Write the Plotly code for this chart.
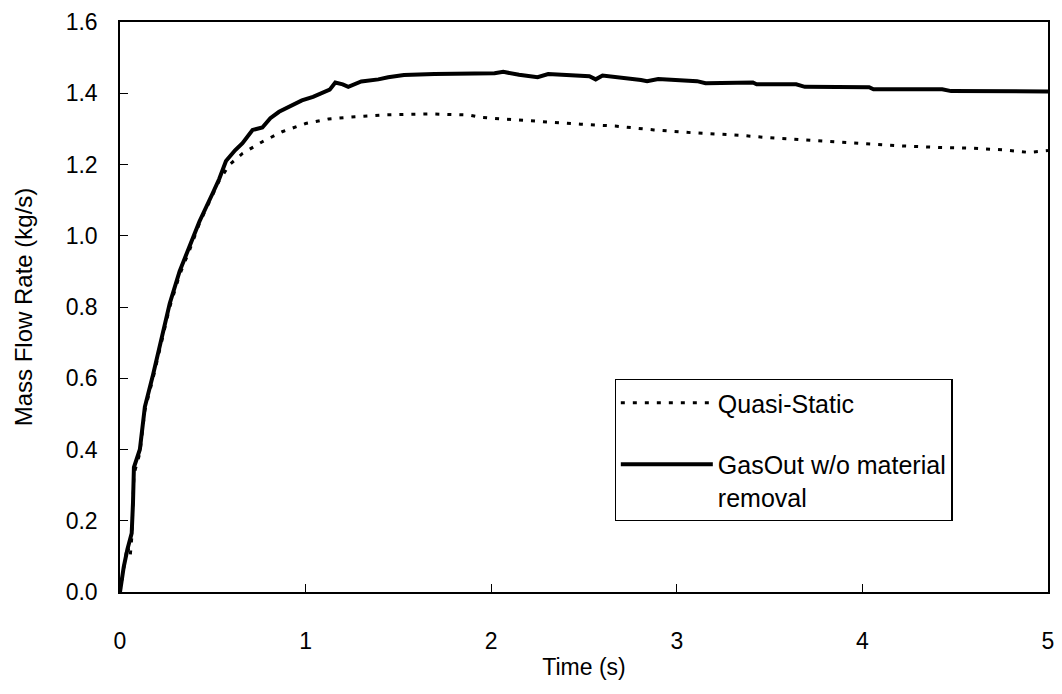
import plotly.graph_objects as go

# GasOut w/o material removal (solid)
gas_t = [0, 0.02, 0.04, 0.063, 0.07, 0.075, 0.107, 0.134, 0.178, 0.223,
         0.268, 0.321, 0.375, 0.428, 0.5, 0.535, 0.571, 0.62, 0.66, 0.714,
         0.767, 0.81, 0.857, 0.92, 0.98, 1.04, 1.089, 1.13, 1.16, 1.2,
         1.23, 1.30, 1.392, 1.445, 1.53, 1.694, 2.018, 2.065, 2.15, 2.25,
         2.307, 2.45, 2.529, 2.563, 2.6, 2.807, 2.84, 2.9, 3.109, 3.155,
         3.41, 3.43, 3.643, 3.69, 4.036, 4.06, 4.43, 4.478, 4.9, 5.0]
gas_v = [0, 0.07, 0.12, 0.165, 0.25, 0.35, 0.40, 0.52, 0.61, 0.71,
         0.81, 0.90, 0.97, 1.04, 1.12, 1.16, 1.21, 1.24, 1.26, 1.297,
         1.304, 1.33, 1.348, 1.365, 1.38, 1.39, 1.40, 1.41, 1.43, 1.425,
         1.418, 1.433, 1.439, 1.445, 1.451, 1.454, 1.456, 1.46, 1.452, 1.445,
         1.454, 1.45, 1.448, 1.439, 1.45, 1.437, 1.434, 1.44, 1.434, 1.428,
         1.43, 1.425, 1.425, 1.418, 1.417, 1.411, 1.411, 1.406, 1.406, 1.405]

# Quasi-Static (dotted)
qs_t = [0, 0.02, 0.04, 0.055, 0.063, 0.07, 0.075, 0.107, 0.134, 0.178,
        0.223, 0.268, 0.321, 0.375, 0.428, 0.5, 0.535, 0.589, 0.66, 0.767,
        0.874, 1.0, 1.124, 1.267, 1.41, 1.67, 1.879, 1.949, 2.134, 2.274,
        2.482, 2.668, 2.877, 3.086, 3.34, 3.48, 3.735, 3.944, 4.22, 4.408,
        4.593, 4.756, 4.896, 5.0]
qs_v = [0, 0.06, 0.13, 0.10, 0.15, 0.25, 0.33, 0.39, 0.51, 0.60,
        0.70, 0.80, 0.89, 0.96, 1.035, 1.115, 1.155, 1.199, 1.231, 1.264,
        1.292, 1.315, 1.328, 1.334, 1.339, 1.342, 1.339, 1.332, 1.325, 1.32,
        1.313, 1.308, 1.297, 1.289, 1.282, 1.276, 1.267, 1.26, 1.252, 1.248,
        1.246, 1.241, 1.234, 1.239]

x_ticks = [0, 1, 2, 3, 4, 5]
y_ticks = [0.0, 0.2, 0.4, 0.6, 0.8, 1.0, 1.2, 1.4, 1.6]

FONT = "Liberation Sans, Arial, sans-serif"

fig = go.Figure()
fig.add_trace(go.Scatter(
    x=qs_t, y=qs_v, mode="lines", name="Quasi-Static",
    line=dict(color="black", width=3, dash="4px,8px"),
    legendgroup="a"))
fig.add_trace(go.Scatter(
    x=gas_t, y=gas_v, mode="lines", name="GasOut w/o material<br>removal",
    line=dict(color="black", width=4),
    legendgroup="b"))

axis_common = dict(
    showline=True, linecolor="black", linewidth=1.5, mirror=True,
    ticks="inside", ticklen=8, tickcolor="black", tickwidth=1,
    showgrid=False, zeroline=False,
    tickfont=dict(family=FONT, size=23, color="black"),
)

fig.update_xaxes(range=[0, 5], tickvals=x_ticks,
                 ticktext=[str(v) for v in x_ticks],
                 ticklabelstandoff=28,
                 title=dict(text="Time (s)", standoff=6,
                            font=dict(family=FONT, size=23, color="black")),
                 **axis_common)
fig.update_yaxes(range=[0, 1.6], tickvals=y_ticks,
                 ticktext=[f"{v:.1f}" for v in y_ticks],
                 ticklabelstandoff=16,
                 title=dict(text="Mass Flow Rate (kg/s)", standoff=26,
                            font=dict(family=FONT, size=24, color="black")),
                 **axis_common)

fig.update_layout(
    width=1062, height=694,
    margin=dict(l=120, r=8, t=22, b=102),
    paper_bgcolor="white", plot_bgcolor="white",
    font=dict(family=FONT, size=23, color="black"),
    showlegend=True,
    legend=dict(
        x=0.533, y=0.374, xanchor="left", yanchor="top",
        bgcolor="white", bordercolor="black", borderwidth=1.2,
        font=dict(family=FONT, size=25, color="black"),
        tracegroupgap=26, itemwidth=92,
        valign="top",
    ),
)

fig.write_html("out.html")
